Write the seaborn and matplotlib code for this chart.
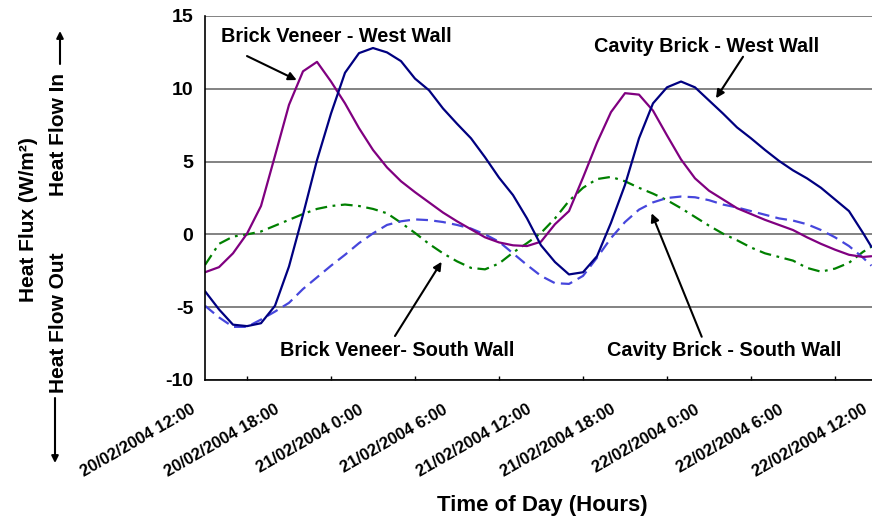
import numpy as np
import pandas as pd
import matplotlib
matplotlib.use("Agg")
import matplotlib.pyplot as plt
import matplotlib.ticker as mticker
import matplotlib.transforms as mtransforms
import seaborn as sns

# hours after 20/02/2004 12:00
hours = [0, 1, 2, 3, 4, 5, 6, 7, 8, 9, 10, 11, 12, 13, 14, 15, 16, 17, 18, 19,
         20, 21, 22, 23, 24, 25, 26, 27, 28, 29, 30, 31, 32, 33, 34, 35, 36, 37,
         38, 39, 40, 41, 42, 43, 44, 45, 46, 47, 47.6]

bv_west = [-2.6, -2.25, -1.3, 0.05, 1.95, 5.4, 8.9, 11.2, 11.85, 10.5, 9.0, 7.3,
           5.8, 4.6, 3.65, 2.9, 2.2, 1.5, 0.9, 0.35, -0.2, -0.55, -0.75, -0.8,
           -0.5, 0.7, 1.6, 3.9, 6.3, 8.4, 9.7, 9.6, 8.5, 6.8, 5.15, 3.85, 3.0,
           2.4, 1.8, 1.4, 1.0, 0.65, 0.3, -0.2, -0.65, -1.05, -1.4, -1.55, -1.5]

cb_west = [-3.9, -5.15, -6.2, -6.3, -6.1, -4.9, -2.2, 1.35, 5.1, 8.3, 11.1, 12.45,
           12.8, 12.5, 11.9, 10.7, 9.9, 8.65, 7.6, 6.6, 5.3, 3.9, 2.7, 1.1,
           -0.75, -1.9, -2.75, -2.6, -1.5, 0.8, 3.4, 6.6, 9.0, 10.1, 10.5, 10.1,
           9.2, 8.3, 7.35, 6.6, 5.8, 5.05, 4.4, 3.85, 3.2, 2.4, 1.6, 0.1, -0.85]

bv_south = [-2.1, -0.65, -0.15, 0.0, 0.2, 0.6, 1.0, 1.4, 1.75, 1.95, 2.05, 1.95,
            1.75, 1.45, 0.8, 0.1, -0.65, -1.3, -1.85, -2.3, -2.4, -2.0, -1.25,
            -0.6, 0.1, 1.1, 2.3, 3.2, 3.8, 3.95, 3.65, 3.2, 2.8, 2.35, 1.8, 1.2,
            0.6, 0.05, -0.4, -0.9, -1.3, -1.55, -1.8, -2.3, -2.56, -2.35, -1.95,
            -1.2, -0.85]

cb_south = [-4.9, -5.7, -6.35, -6.35, -5.85, -5.3, -4.7, -3.75, -2.95, -2.15,
            -1.4, -0.6, 0.07, 0.65, 0.9, 1.03, 0.98, 0.85, 0.65, 0.4, 0.0, -0.5,
            -1.3, -2.1, -2.85, -3.35, -3.4, -2.85, -1.6, -0.25, 0.85, 1.7, 2.2,
            2.5, 2.6, 2.55, 2.35, 2.05, 1.85, 1.6, 1.35, 1.1, 0.95, 0.7, 0.3,
            -0.2, -0.8, -1.6, -2.15]

tick_hours = [0, 6, 12, 18, 24, 30, 36, 42, 48]
tick_labels = ["20/02/2004 12:00", "20/02/2004 18:00", "21/02/2004 0:00",
               "21/02/2004 6:00", "21/02/2004 12:00", "21/02/2004 18:00",
               "22/02/2004 0:00", "22/02/2004 6:00", "22/02/2004 12:00"]

df = pd.DataFrame({"hours": hours, "bv_west": bv_west, "cb_west": cb_west,
                   "bv_south": bv_south, "cb_south": cb_south})

sns.set_theme(style="white")
plt.rcParams["font.family"] = ["Liberation Sans", "DejaVu Sans"]
plt.rcParams["font.weight"] = "bold"
plt.rcParams["text.color"] = "black"
plt.rcParams["xtick.labelcolor"] = "black"
plt.rcParams["ytick.labelcolor"] = "black"
plt.rcParams["axes.unicode_minus"] = False
plt.rcParams["lines.scale_dashes"] = False

fig = plt.figure(figsize=(8.72, 5.2), dpi=100)
ax = fig.add_axes([205 / 872, 140 / 520, 672 / 872, 364 / 520])

styles = {
    "bv_south": dict(color="#008000", linestyle=(0, (8.5, 4, 2, 4))),
    "cb_south": dict(color="#4646DC", linestyle=(0, (8.5, 4.5))),
    "bv_west": dict(color="#800080", linestyle="-"),
    "cb_west": dict(color="#000080", linestyle="-"),
}
for col, st in styles.items():
    sns.lineplot(data=df, x="hours", y=col, ax=ax, linewidth=1.6, **st)

ax.set_xlim(0, 48)
ax.set_ylim(-10, 15)
ax.set_yticks([-10, -5, 0, 5, 10, 15])
ax.set_xticks(tick_hours)
ax.set_xticklabels(tick_labels, rotation=30, ha="right", va="top",
                   rotation_mode="anchor")
ax.xaxis.set_minor_locator(mticker.MultipleLocator(3))
ax.grid(axis="y", color="#606060", linewidth=1.1)
ax.set_axisbelow(True)
ax.set_xlabel("")
ax.set_ylabel("")

for s in ["top", "right"]:
    ax.spines[s].set_visible(False)
for s in ["left", "bottom"]:
    ax.spines[s].set_color("black")
    ax.spines[s].set_linewidth(1.2)

ax.tick_params(axis="y", which="major", direction="out", length=4.3, width=1,
               color="black", pad=4, labelsize=14)
ax.tick_params(axis="x", which="major", direction="inout", length=6.5, width=1,
               color="black", pad=12.5, labelsize=12)
ax.tick_params(axis="x", which="minor", direction="in", length=3, width=1,
               color="black", bottom=True)

# nudge rotated x labels left so the last one stays inside the picture
shift = mtransforms.ScaledTranslation(-15 / 100, 0, fig.dpi_scale_trans)
for lab in ax.get_xticklabels():
    lab.set_transform(lab.get_transform() + shift)

# series annotations
arrow = dict(arrowstyle="-|>", color="black", lw=1.5, mutation_scale=12,
             shrinkA=0, shrinkB=0)
ax.text(9.36, 13.56, "Brick Veneer - West Wall", ha="center", va="center",
        fontsize=14.3, fontweight="bold")
ax.annotate("", xy=(6.55, 10.6), xytext=(3.0, 12.25), arrowprops=arrow)
ax.text(35.86, 12.9, "Cavity Brick - West Wall", ha="center", va="center",
        fontsize=14.3, fontweight="bold")
ax.annotate("", xy=(36.5, 9.35), xytext=(38.43, 12.2), arrowprops=arrow)
ax.text(13.75, -7.94, "Brick Veneer- South Wall", ha="center", va="center",
        fontsize=14.3, fontweight="bold")
ax.annotate("", xy=(16.9, -1.88), xytext=(13.57, -6.98), arrowprops=arrow)
ax.text(37.07, -7.94, "Cavity Brick - South Wall", ha="center", va="center",
        fontsize=14.3, fontweight="bold")
ax.annotate("", xy=(31.9, 1.45), xytext=(35.48, -7.03), arrowprops=arrow)

# axis titles
fig.text(542 / 872, 1 - 505 / 520, "Time of Day (Hours)", ha="center",
         va="center", fontsize=16, fontweight="bold")
fig.text(29 / 872, 1 - 220 / 520, "Heat Flux (W/m²)", ha="center", va="center",
         rotation=90, fontsize=15, fontweight="bold")
fig.text(58 / 872, 1 - 134 / 520, "Heat Flow In", ha="center", va="center",
         rotation=90, fontsize=15, fontweight="bold")
fig.text(58 / 872, 1 - 323 / 520, "Heat Flow Out", ha="center", va="center",
         rotation=90, fontsize=15, fontweight="bold")
side = dict(arrowstyle="-|>", color="black", lw=1.5, mutation_scale=10,
            shrinkA=0, shrinkB=0)
ax.annotate("", xy=(60, 520 - 31), xytext=(60, 520 - 64),
            xycoords="figure pixels", textcoords="figure pixels",
            arrowprops=side, annotation_clip=False)
ax.annotate("", xy=(55, 520 - 463), xytext=(55, 520 - 398),
            xycoords="figure pixels", textcoords="figure pixels",
            arrowprops=side, annotation_clip=False)

fig.savefig("out.png", dpi=100)
